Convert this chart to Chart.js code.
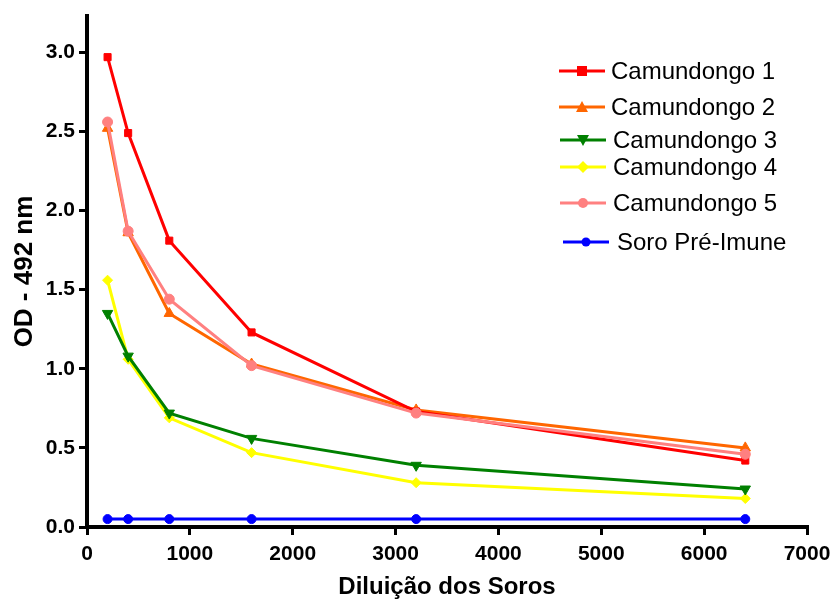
<!DOCTYPE html>
<html>
<head>
<meta charset="utf-8">
<script src="https://cdn.jsdelivr.net/npm/chart.js@4/dist/chart.umd.min.js"></script>
<style>
  body { margin: 0; background: #fff; }
  #wrap { position: relative; width: 832px; height: 602px; }
  #legend { position: absolute; left: 0; top: 0; font-family: Arial, "Liberation Sans", sans-serif; font-size: 24px; color: #000; }
  .item { position: absolute; white-space: nowrap; height: 28px; line-height: 28px; }
  .item svg { position: absolute; top: 4px; }
  .item span { position: absolute; top: 0; }
</style>
</head>
<body>
<div id="wrap">
  <canvas id="c" width="832" height="602"></canvas>
  <div id="legend"></div>
</div>
<script>
// data
const dilutions = [200, 400, 800, 1600, 3200, 6400];
const labels = ["Camundongo 1", "Camundongo 2", "Camundongo 3", "Camundongo 4", "Camundongo 5", "Soro Pré-Imune"];
const cam1 = [2.97, 2.49, 1.81, 1.23, 0.73, 0.42];
const cam2 = [2.52, 1.86, 1.35, 1.03, 0.74, 0.50];
const cam3 = [1.35, 1.08, 0.72, 0.56, 0.39, 0.24];
const cam4 = [1.56, 1.06, 0.69, 0.47, 0.28, 0.18];
const cam5 = [2.56, 1.87, 1.44, 1.02, 0.72, 0.46];
const preImune = [0.05, 0.05, 0.05, 0.05, 0.05, 0.05];
const yTicks = [0, 0.5, 1.0, 1.5, 2.0, 2.5, 3.0];
const xTicks = [0, 1000, 2000, 3000, 4000, 5000, 6000, 7000];

const series = [
  { data: cam1, color: "#ff0000", style: "rect", rot: 0, r: 5 },
  { data: cam2, color: "#ff6600", style: "triangle", rot: 0, r: 6 },
  { data: cam3, color: "#008000", style: "triangle", rot: 180, r: 6 },
  { data: cam4, color: "#ffff00", style: "rectRot", rot: 0, r: 5 },
  { data: cam5, color: "#ff8080", style: "circle", rot: 0, r: 5 },
  { data: preImune, color: "#0000ff", style: "circle", rot: 0, r: 4.5 },
];

const font = "Arial, 'Liberation Sans', sans-serif";

const datasets = series.map((s, i) => ({
  label: labels[i],
  data: dilutions.map((x, j) => ({ x: x, y: s.data[j] })),
  borderColor: s.color,
  backgroundColor: s.color,
  borderWidth: 3,
  pointStyle: s.style,
  rotation: s.rot,
  pointRadius: s.r,
  pointBorderWidth: 1,
  tension: 0,
  order: i === 4 ? -1 : i,
}));

new Chart(document.getElementById("c"), {
  type: "line",
  data: { datasets },
  options: {
    responsive: false,
    animation: false,
    layout: { padding: { top: 16, right: 25, left: 0, bottom: 0 } },
    plugins: { legend: { display: false }, tooltip: { enabled: false } },
    scales: {
      x: {
        type: "linear",
        min: 0,
        max: 7000,
        afterBuildTicks: (s) => { s.ticks = xTicks.map((v) => ({ value: v })); },
        afterFit: (s) => { s.height = 75; s.paddingRight = 0; s.paddingLeft = 0; },
        grid: { drawOnChartArea: false, color: "#000", lineWidth: 3, tickLength: 8 },
        border: { display: true, color: "#000", width: 4 },
        ticks: { color: "#000", font: { family: font, size: 21, weight: "bold" }, padding: 7, maxRotation: 0, callback: (v) => String(v) },
        title: { display: true, text: "Diluição dos Soros", color: "#000", font: { family: font, size: 24, weight: "bold" }, padding: { top: 0, bottom: 0 } },
      },
      y: {
        type: "linear",
        min: 0,
        max: 3.23,
        afterBuildTicks: (s) => { s.ticks = yTicks.map((v) => ({ value: v })); },
        afterFit: (s) => { s.width = 87; s.paddingTop = 0; s.paddingBottom = 0; },
        grid: { drawOnChartArea: false, color: "#000", lineWidth: 3, tickLength: 8 },
        border: { display: true, color: "#000", width: 4 },
        ticks: { color: "#000", font: { family: font, size: 21, weight: "bold" }, padding: 4, callback: (v) => v.toFixed(1) },
        title: { display: true, text: "OD - 492 nm", color: "#000", font: { family: font, size: 26, weight: "bold" }, padding: { top: 9, bottom: 0 } },
      },
    },
  },
});

// legend: line + marker, then label (positions)
const legendLineY = [71, 107, 140, 167, 203, 242];
const legendLineX = [559, 559, 560, 560, 560, 563];
const legendTextX = [611, 611, 613, 613, 613, 617];
const legend = document.getElementById("legend");
series.forEach((s, i) => {
  const div = document.createElement("div");
  div.className = "item";
  div.style.left = legendLineX[i] + "px";
  div.style.top = (legendLineY[i] - 14) + "px";
  const cx = 23, cy = 10;
  let marker = "";
  if (s.style === "rect") marker = `<rect x="${cx - 5}" y="${cy - 5}" width="10" height="10" fill="${s.color}"/>`;
  else if (s.style === "triangle" && s.rot === 0) marker = `<polygon points="${cx},${cy - 6} ${cx + 6},${cy + 5} ${cx - 6},${cy + 5}" fill="${s.color}"/>`;
  else if (s.style === "triangle") marker = `<polygon points="${cx},${cy + 6} ${cx + 6},${cy - 5} ${cx - 6},${cy - 5}" fill="${s.color}"/>`;
  else if (s.style === "rectRot") marker = `<polygon points="${cx},${cy - 6} ${cx + 6},${cy} ${cx},${cy + 6} ${cx - 6},${cy}" fill="${s.color}"/>`;
  else marker = `<circle cx="${cx}" cy="${cy}" r="${s.r}" fill="${s.color}"/>`;
  div.innerHTML = `<svg width="48" height="20" style="left:0"><line x1="0" y1="10" x2="46" y2="10" stroke="${s.color}" stroke-width="3"/>${marker}</svg><span style="left:${legendTextX[i] - legendLineX[i]}px">${labels[i]}</span>`;
  legend.appendChild(div);
});
</script>
</body>
</html>
